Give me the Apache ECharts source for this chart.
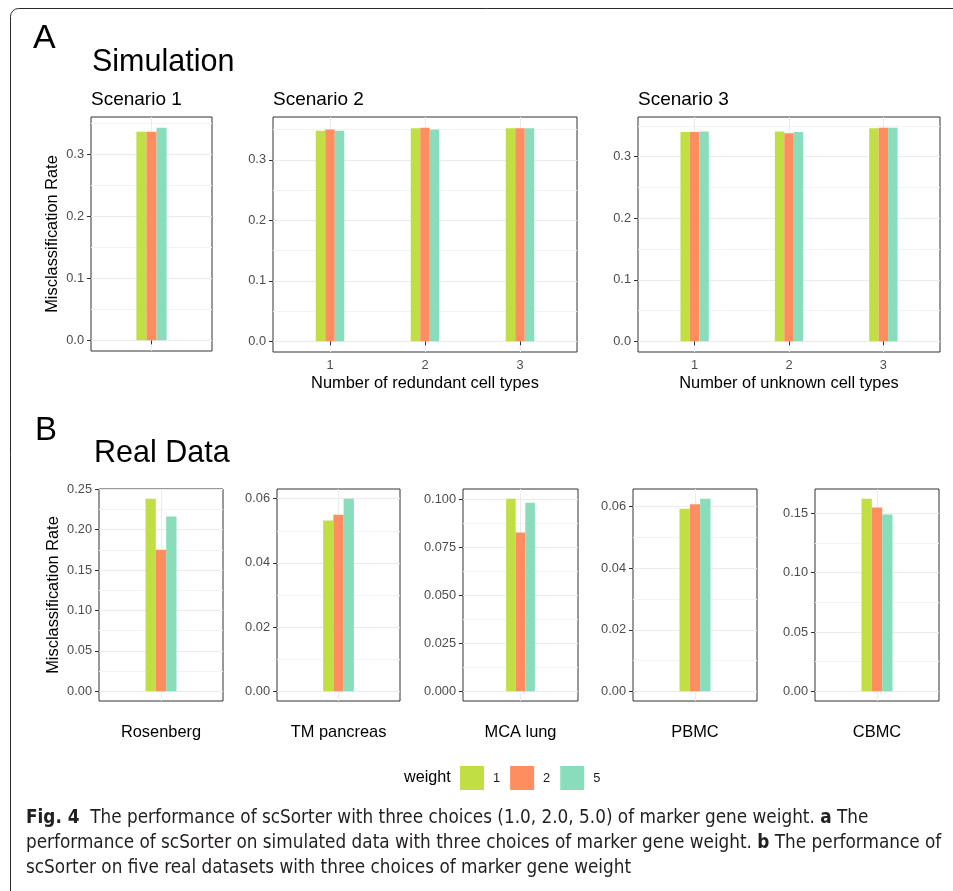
<!DOCTYPE html>
<html>
<head>
<meta charset="utf-8">
<script src="https://cdn.jsdelivr.net/npm/echarts@6/dist/echarts.min.js"></script>
<style>
  html, body { margin: 0; padding: 0; background: #fff; }
  #chart { width: 953px; height: 891px; }
</style>
</head>
<body>
<div id="chart"></div>
<script>
const weights = ['1', '2', '5'];
const weightColors = ['#c1df45', '#fe8e5f', '#89ddbb'];

// A - Simulation
const scen1Cats = [1];
const scen1W1 = [0.337];
const scen1W2 = [0.337];
const scen1W5 = [0.3435];

const scen2Cats = [1, 2, 3];
const scen2W1 = [0.348, 0.352, 0.352];
const scen2W2 = [0.350, 0.353, 0.352];
const scen2W5 = [0.348, 0.350, 0.352];

const scen3Cats = [1, 2, 3];
const scen3W1 = [0.340, 0.341, 0.346];
const scen3W2 = [0.340, 0.338, 0.347];
const scen3W5 = [0.341, 0.340, 0.347];

const simTicks = [0, 0.1, 0.2, 0.3];
const simMinor = [0.05, 0.15, 0.25, 0.35];

// B - Real Data
const realNames = ['Rosenberg', 'TM pancreas', 'MCA lung', 'PBMC', 'CBMC'];
const realW1 = [0.2382, 0.0532, 0.1005, 0.0593, 0.1623];
const realW2 = [0.175, 0.0550, 0.0828, 0.0608, 0.1548];
const realW5 = [0.216, 0.0600, 0.0984, 0.0626, 0.1489];

const rosenTicks = [0, 0.05, 0.1, 0.15, 0.2, 0.25];
const rosenMinor = [0.025, 0.075, 0.125, 0.175, 0.225];
const tmTicks = [0, 0.02, 0.04, 0.06];
const tmMinor = [0.01, 0.03, 0.05];
const mcaTicks = [0, 0.025, 0.05, 0.075, 0.1];
const mcaMinor = [0.0125, 0.0375, 0.0625, 0.0875];
const pbmcTicks = [0, 0.02, 0.04, 0.06];
const pbmcMinor = [0.01, 0.03, 0.05];
const cbmcTicks = [0, 0.05, 0.1, 0.15];
const cbmcMinor = [0.025, 0.075, 0.125];

const realTicks = [rosenTicks, tmTicks, mcaTicks, pbmcTicks, cbmcTicks];
const realMinor = [rosenMinor, tmMinor, mcaMinor, pbmcMinor, cbmcMinor];
const realDec = [2, 2, 3, 2, 2];
const realBoxes = [[99, 489, 124, 212], [277, 489, 123, 212], [463, 489, 115, 212], [633, 489, 124, 212], [815, 489, 124, 212]];

const FONT = 'Liberation Sans, Arial, Helvetica, sans-serif';
const GRID_COL = '#ebebeb';
const DARK = '#333333';
const TITLE_SIZE = 16.4;

var panels = [
  { box: [91, 117, 121, 234], cats: scen1Cats, vals: [scen1W1, scen1W2, scen1W5], ticks: simTicks, minor: simMinor, dec: 1,
    xLabels: false, xTicks: true, xName: '', yName: 'Misclassification Rate', yNameGap: 31 },
  { box: [273, 117, 304, 235], cats: scen2Cats, vals: [scen2W1, scen2W2, scen2W5], ticks: simTicks, minor: simMinor, dec: 1,
    xLabels: true, xTicks: true, xName: 'Number of redundant cell types', yName: '' },
  { box: [638, 117, 302, 235], cats: scen3Cats, vals: [scen3W1, scen3W2, scen3W5], ticks: simTicks, minor: simMinor, dec: 1,
    xLabels: true, xTicks: true, xName: 'Number of unknown cell types', yName: '' }
];
realNames.forEach(function (name, i) {
  panels.push({ box: realBoxes[i], cats: [1], vals: [[realW1[i]], [realW2[i]], [realW5[i]]],
    ticks: realTicks[i], minor: realMinor[i], dec: realDec[i],
    xLabels: false, xTicks: false, xName: name, yName: i === 0 ? 'Misclassification Rate' : '', yNameGap: 38 });
});

var grids = [], xAxes = [], yAxes = [], series = [];

panels.forEach(function (p, pi) {
  var top = Math.max.apply(null, p.vals[0].concat(p.vals[1], p.vals[2]));
  var xMin = 0.4, xMax = p.cats.length + 0.6;
  var unitPx = p.box[2] / (xMax - xMin);

  grids.push({ left: p.box[0], top: p.box[1], width: p.box[2], height: p.box[3],
    show: true, borderColor: DARK, borderWidth: 1, backgroundColor: 'transparent' });

  xAxes.push({
    type: 'value', gridIndex: pi, min: xMin, max: xMax,
    axisLine: { show: false },
    axisTick: { show: p.xTicks, customValues: p.cats, length: 4, lineStyle: { color: DARK } },
    axisLabel: { show: p.xLabels, customValues: p.cats, margin: 7, color: '#4d4d4d', fontSize: 12.8,
      formatter: function (v) { return String(Math.round(v)); } },
    splitLine: { show: true, lineStyle: { color: GRID_COL, width: 1 } },
    name: p.xName, nameLocation: 'middle', nameGap: 23,
    nameTextStyle: { fontSize: TITLE_SIZE, color: '#000' }
  });

  var yMin = -top * 0.05, yMax = top * 1.05;
  yAxes.push({
    type: 'value', gridIndex: pi, min: yMin, max: yMax,
    axisLine: { show: false },
    axisTick: { show: true, customValues: p.ticks, length: 4, lineStyle: { color: DARK } },
    axisLabel: { customValues: p.ticks, margin: 7, color: '#4d4d4d', fontSize: 12.8,
      formatter: function (v) { return v.toFixed(p.dec); } },
    splitLine: { show: true, lineStyle: { color: GRID_COL, width: 1 } },
    name: p.yName, nameLocation: 'middle', nameGap: p.yNameGap || 30,
    nameTextStyle: { fontSize: TITLE_SIZE, color: '#000' }
  });
  // minor grid lines
  yAxes.push({
    type: 'value', gridIndex: pi, min: yMin, max: yMax,
    axisLine: { show: false },
    axisTick: { show: false, customValues: p.minor },
    axisLabel: { show: false },
    splitLine: { show: true, lineStyle: { color: '#f3f3f3', width: 1 } }
  });

  p.vals.forEach(function (vals, wi) {
    series.push({
      type: 'bar', name: weights[wi], xAxisIndex: pi, yAxisIndex: pi * 2,
      data: p.cats.map(function (c, ci) { return [c, vals[ci]]; }),
      barWidth: unitPx * 0.1, barGap: '0%',
      itemStyle: { color: weightColors[wi] },
      silent: true
    });
  });
});

// caption sized to the reference line width
var capFamily = '"Liberation Sans Narrow", "DejaVu Sans Condensed", "Open Sans", sans-serif';
var ctx = document.createElement('canvas').getContext('2d');
function w(txt, bold) {
  ctx.font = (bold ? 'bold ' : '') + '100px ' + capFamily;
  return ctx.measureText(txt).width;
}
var line2Width = w('performance of scSorter on simulated data with three choices of marker gene weight. ') + w('b', true) + w(' The performance of');
var capSize = 100 * 916 / line2Width;

function capText(x, y, text) {
  return {
    type: 'text', x: x, y: y, silent: true,
    style: {
      text: text, fontSize: capSize, fontFamily: capFamily, fill: '#231f20', verticalAlign: 'middle',
      rich: { b: { fontWeight: 'bold', fontSize: capSize, fontFamily: capFamily, fill: '#231f20' } }
    }
  };
}
function label(x, y, text, size) {
  return { type: 'text', x: x, y: y, silent: true,
    style: { text: text, fontSize: size, fontFamily: FONT, fill: '#000', verticalAlign: 'middle' } };
}

var graphics = [
  { type: 'rect', silent: true, shape: { x: 10.5, y: 8.5, width: 1000, height: 1000, r: 8 },
    style: { fill: 'none', stroke: '#2b2b2b', lineWidth: 1 } },
  label(33, 39, 'A', 34),
  label(92, 63, 'Simulation', 30.5),
  label(91, 100, 'Scenario 1', 19),
  label(273, 100, 'Scenario 2', 19),
  label(638, 100, 'Scenario 3', 19),
  label(35, 431, 'B', 33),
  label(94, 454, 'Real Data', 30.5),
  label(404, 778, 'weight', 16.2),
  capText(26, 818, '{b|Fig. 4}  The performance of scSorter with three choices (1.0, 2.0, 5.0) of marker gene weight. {b|a} The'),
  capText(26, 843, 'performance of scSorter on simulated data with three choices of marker gene weight. {b|b} The performance of'),
  capText(26, 868, 'scSorter on five real datasets with three choices of marker gene weight')
];

var chart = echarts.init(document.getElementById('chart'), null, { renderer: 'canvas' });
chart.setOption({
  animation: false,
  backgroundColor: '#fff',
  textStyle: { fontFamily: FONT },
  grid: grids,
  xAxis: xAxes,
  yAxis: yAxes,
  series: series,
  legend: {
    left: 460, top: 766, orient: 'horizontal', padding: 0,
    itemWidth: 24, itemHeight: 24, itemGap: 10, icon: 'rect',
    selectedMode: false, data: weights,
    textStyle: { fontSize: 12.8, color: '#1a1a1a', padding: [0, 0, 0, 4] }
  },
  graphic: graphics
});
</script>
</body>
</html>
